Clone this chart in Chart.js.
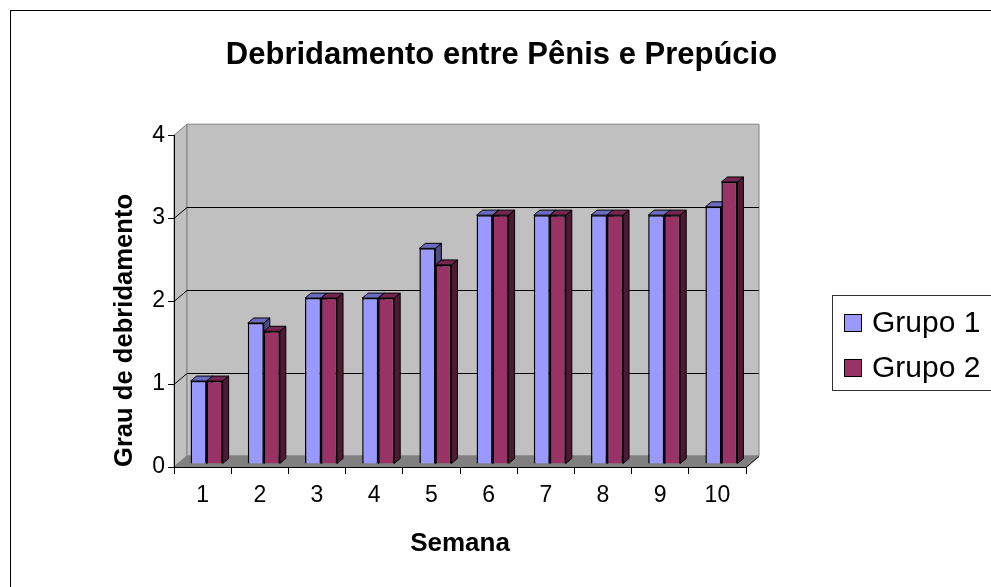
<!DOCTYPE html>
<html>
<head>
<meta charset="utf-8">
<script src="https://cdn.jsdelivr.net/npm/chart.js@4.4.0/dist/chart.umd.min.js"></script>
<style>
  body { margin: 0; background: #fff; }
  canvas { display: block; }
</style>
</head>
<body>
<canvas id="chart" width="991" height="587"></canvas>
<script>
// data
const semanas = ['1', '2', '3', '4', '5', '6', '7', '8', '9', '10'];
const grupo1 = [1, 1.7, 2, 2, 2.6, 3, 3, 3, 3, 3.1];
const grupo2 = [1, 1.6, 2, 2, 2.4, 3, 3, 3, 3, 3.4];
const yTicks = [0, 1, 2, 3, 4];

// fake 3d depth of the walls and of the bars
const DX = 13, DY = -11;
const BDX = 6, BDY = -5;
const SHIFT_X = 4, SHIFT_Y = -3;

function poly(ctx, pts, fill, stroke) {
    ctx.beginPath();
    ctx.moveTo(pts[0][0], pts[0][1]);
    for (let i = 1; i < pts.length; i++) ctx.lineTo(pts[i][0], pts[i][1]);
    ctx.closePath();
    if (fill) { ctx.fillStyle = fill; ctx.fill(); }
    if (stroke) { ctx.strokeStyle = stroke; ctx.stroke(); }
}

const wallsPlugin = {
    id: 'walls',
    beforeDraw(chart) {
        const { ctx, chartArea: a } = chart;
        const y = chart.scales.y;
        ctx.save();
        ctx.lineWidth = 1;
        // left side wall, back wall, floor
        poly(ctx, [[a.left, a.top], [a.left + DX, a.top + DY], [a.left + DX, a.bottom + DY], [a.left, a.bottom]], '#c0c0c0', '#808080');
        poly(ctx, [[a.left + DX, a.top + DY], [a.right + DX, a.top + DY], [a.right + DX, a.bottom + DY], [a.left + DX, a.bottom + DY]], '#c0c0c0', '#808080');
        poly(ctx, [[a.left, a.bottom], [a.left + DX, a.bottom + DY], [a.right + DX, a.bottom + DY], [a.right, a.bottom]], '#808080', '#808080');

        // gridlines on back wall and side wall
        ctx.strokeStyle = '#000';
        yTicks.slice(1, -1).forEach(v => {
            const py = Math.round(y.getPixelForValue(v)) + 0.5;
            ctx.beginPath();
            ctx.moveTo(a.left, py);
            ctx.lineTo(a.left + DX, py + DY);
            ctx.lineTo(a.right + DX, py + DY);
            ctx.stroke();
        });
        // right edge of the floor
        ctx.beginPath();
        ctx.moveTo(a.right, a.bottom + 0.5);
        ctx.lineTo(a.right + DX, a.bottom + DY + 0.5);
        ctx.stroke();
        ctx.restore();
    }
};

const barDepthPlugin = {
    id: 'barDepth',
    beforeDatasetsDraw(chart) {
        const ctx = chart.ctx;
        ctx.save();
        ctx.translate(SHIFT_X, SHIFT_Y);
        ctx.lineWidth = 1;
        chart.data.datasets.forEach((ds, i) => {
            const meta = chart.getDatasetMeta(i);
            meta.data.forEach(bar => {
                const { x, y, base, width } = bar.getProps(['x', 'y', 'base', 'width'], true);
                const l = x - width / 2, r = x + width / 2;
                poly(ctx, [[r, y], [r + BDX, y + BDY], [r + BDX, base + BDY], [r, base]], ds.sideColor, '#000');
                poly(ctx, [[l, y], [l + BDX, y + BDY], [r + BDX, y + BDY], [r, y]], ds.topColor, '#000');
            });
        });
    },
    afterDatasetsDraw(chart) {
        chart.ctx.restore();
    }
};

const frameLegendPlugin = {
    id: 'frameLegend',
    afterDraw(chart) {
        const ctx = chart.ctx;
        ctx.save();
        ctx.lineWidth = 1;
        ctx.strokeStyle = '#000';
        // outer frame (only top and left are inside the picture)
        ctx.strokeRect(10.5, 10.5, 1000, 1000);

        // legend box
        ctx.strokeStyle = '#333';
        ctx.strokeRect(832.5, 295.5, 200, 95);
        const rows = [323, 368];
        ctx.font = '30px "Liberation Sans", Arial, sans-serif';
        ctx.textBaseline = 'middle';
        chart.data.datasets.forEach((ds, i) => {
            ctx.fillStyle = ds.backgroundColor;
            ctx.fillRect(844, rows[i] - 9, 18, 18);
            ctx.strokeStyle = '#000';
            ctx.strokeRect(844.5, rows[i] - 8.5, 17, 17);
            ctx.fillStyle = '#000';
            ctx.fillText(ds.label, 872, rows[i] + 1);
        });
        ctx.restore();
    }
};

Chart.defaults.font.family = '"Liberation Sans", Arial, sans-serif';
Chart.defaults.color = '#000';

const ctx = document.getElementById('chart').getContext('2d');
new Chart(ctx, {
    type: 'bar',
    data: {
        labels: semanas,
        datasets: [{
            label: 'Grupo 1',
            data: grupo1,
            backgroundColor: '#9999ff',
            topColor: '#6b6bc0',
            sideColor: '#4d4d80',
            borderColor: '#000',
            borderWidth: 1.5,
            clip: false
        }, {
            label: 'Grupo 2',
            data: grupo2,
            backgroundColor: '#993366',
            topColor: '#732650',
            sideColor: '#4d1933',
            borderColor: '#000',
            borderWidth: 1.5,
            clip: false
        }]
    },
    options: {
        responsive: false,
        animation: false,
        layout: { padding: { left: 12, right: 0, top: 0, bottom: 0 } },
        datasets: { bar: { categoryPercentage: 0.56, barPercentage: 1 } },
        plugins: {
            legend: { display: false },
            tooltip: { enabled: false },
            title: {
                display: true,
                text: 'Debridamento entre Pênis e Prepúcio',
                color: '#000',
                font: { size: 31, weight: 'bold' },
                padding: { top: 37, bottom: 61 }
            }
        },
        scales: {
            x: {
                offset: true,
                grid: { offset: true, drawOnChartArea: false, drawTicks: true, tickLength: 7, color: '#000' },
                border: { color: '#000', width: 1 },
                ticks: { color: '#000', font: { size: 23 }, padding: 8, autoSkip: false, maxRotation: 0 },
                title: {
                    display: true,
                    text: 'Semana',
                    color: '#000',
                    font: { size: 26, weight: 'bold' },
                    padding: { top: 0, bottom: 28 }
                },
                afterFit(scale) { scale.height = 120; }
            },
            y: {
                min: yTicks[0],
                max: yTicks[yTicks.length - 1],
                grid: { drawOnChartArea: false, drawTicks: true, tickLength: 6, color: '#000' },
                border: { color: '#000', width: 1 },
                ticks: { stepSize: 1, color: '#000', font: { size: 23 }, padding: 3 },
                title: {
                    display: true,
                    text: 'Grau de debridamento',
                    align: 'start',
                    color: '#000',
                    font: { size: 25.6, weight: 'bold' },
                    padding: { top: 98, bottom: 0 }
                },
                afterFit(scale) { scale.width = 162; }
            },
            yRight: {
                position: 'right',
                display: true,
                grid: { display: false },
                border: { display: false },
                ticks: { display: false },
                afterFit(scale) { scale.width = 245; }
            }
        }
    },
    plugins: [wallsPlugin, barDepthPlugin, frameLegendPlugin]
});
</script>
</body>
</html>
